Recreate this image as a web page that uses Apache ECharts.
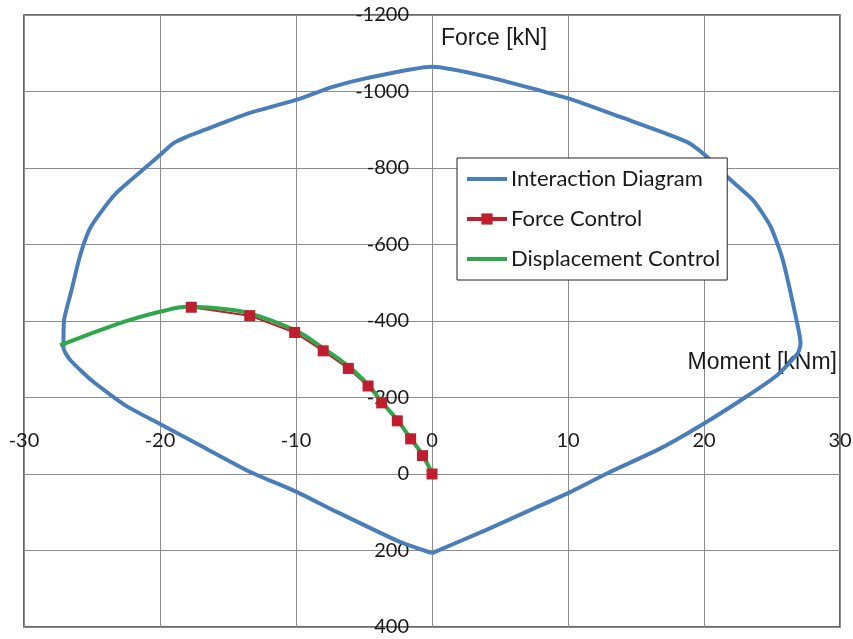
<!DOCTYPE html>
<html>
<head>
<meta charset="utf-8">
<script src="https://cdn.jsdelivr.net/npm/echarts@6/dist/echarts.min.js"></script>
<style>
  html, body { margin: 0; padding: 0; background: #fff; }
  #chart { width: 853px; height: 639px; }
</style>
</head>
<body>
<div id="chart"></div>
<script>
// axis ticks
const momentTicks = [-30, -20, -10, 0, 10, 20, 30]
const forceTicks = [-1200, -1000, -800, -600, -400, -200, 0, 200, 400]

// interaction diagram (closed loop, starting at bottom vertex, going left)
const interactionM = [0, -2.4, -7.3, -10.0, -13.4, -17.1, -20.0, -22.4, -24.9, -26.6, -27.1, -27.05, -26.5, -25.9, -25.2, -24.4, -23.2, -21.0, -20.0, -19.0, -18.0, -15.8, -13.4, -10.0, -7.3, -4.8, 0, 4.0, 10.0, 13.8, 18.7, 20.2, 21.7, 23.6, 24.9, 25.8, 26.8, 27.1, 26.9, 25.4, 23.1, 20.0, 16.8, 12.9, 10.0, 7.5, 4.0, 0]
const interactionN = [207, 177, 94, 46, -6, -76, -131, -176, -241, -298, -330, -403, -481, -568, -638, -682, -735, -803, -834, -865, -882, -912, -944, -978, -1012, -1035, -1065, -1039, -982, -934, -869, -830, -777, -716, -647, -559, -403, -342, -316, -259, -202, -132, -67, -2, 50, 90, 146, 207]

// force control steps
const forceM = [-17.7, -13.4, -10.1, -8.0, -6.15, -4.7, -3.7, -2.55, -1.57, -0.7, 0]
const forceN = [-436, -414, -370, -322, -276, -230, -186, -139, -92, -48, 0]

// displacement control path
const dispM = [-27.35, -24.4, -22.2, -20.0, -18.0, -15.5, -13.4, -10.1, -8.0, -6.15, -4.7, -3.7, -2.55, -1.57, -0.7, 0]
const dispN = [-336, -376, -403, -424, -437, -432, -420, -376, -329, -282, -233, -189, -141, -93, -50, -2]

const pairs = (xs, ys) => xs.map((x, i) => [x, ys[i]])

const chart = echarts.init(document.getElementById('chart'))

// plot box in pixels; the axes cross at (0, 0) inside it
const plot = { left: 24, top: 15, right: 840, bottom: 627 }
const xMin = momentTicks[0], xMax = momentTicks[momentTicks.length - 1]
const yMin = forceTicks[0], yMax = forceTicks[forceTicks.length - 1]
const xZeroOffset = (plot.right - plot.left) * (0 - xMin) / (xMax - xMin)
const yZeroOffset = (plot.bottom - plot.top) * (yMax - 0) / (yMax - yMin)

const gridColor = '#8c8c8c'
const labelFont = {
  fontFamily: 'Lato',
  fontSize: 20,
  color: '#1a1a1a'
}

chart.setOption({
  animation: false,
  grid: {
    left: plot.left,
    top: plot.top,
    right: 853 - plot.right,
    bottom: 639 - plot.bottom,
    containLabel: false,
    outerBoundsMode: 'none',
    show: true,
    borderColor: '#3a3a3a',
    borderWidth: 1.5
  },
  xAxis: {
    type: 'value',
    min: xMin,
    max: xMax,
    interval: 10,
    offset: -yZeroOffset,
    axisLine: { show: true, onZero: false, lineStyle: { color: gridColor, width: 1 } },
    axisTick: { show: false },
    axisLabel: {
      ...labelFont,
      inside: true,
      margin: 23,
      formatter: v => String(v)
    },
    splitLine: { lineStyle: { color: gridColor, width: 1 } }
  },
  yAxis: {
    type: 'value',
    inverse: true,
    min: yMin,
    max: yMax,
    interval: 200,
    offset: -xZeroOffset,
    axisLine: { show: true, onZero: false, lineStyle: { color: gridColor, width: 1 } },
    axisTick: { show: false },
    axisLabel: {
      ...labelFont,
      margin: 23,
      formatter: v => String(v)
    },
    splitLine: { lineStyle: { color: gridColor, width: 1 } }
  },
  legend: {
    orient: 'vertical',
    left: 457,
    top: 158,
    backgroundColor: '#fff',
    borderColor: '#222',
    borderWidth: 1,
    padding: [8, 7, 8, 8],
    itemWidth: 40,
    itemHeight: 14,
    itemGap: 14,
    textStyle: { fontFamily: 'Lato', fontSize: 22, color: '#1a1a1a', lineHeight: 26, padding: [0, 0, 0, -1] },
    data: [
      { name: 'Interaction Diagram', itemStyle: { opacity: 0 }, lineStyle: { width: 4 } },
      { name: 'Force Control', lineStyle: { width: 4 } },
      { name: 'Displacement Control', itemStyle: { opacity: 0 }, lineStyle: { width: 4 } }
    ]
  },
  graphic: [{
    type: 'text',
    left: 441,
    top: 27,
    z: 1,
    style: { text: 'Force [kN]', font: '23px "Liberation Sans"', fill: '#1a1a1a' }
  }, {
    type: 'text',
    right: 16,
    top: 351,
    z: 1,
    style: { text: 'Moment [kNm]', font: '23px "Liberation Sans"', fill: '#1a1a1a' }
  }],
  series: [{
    name: 'Interaction Diagram',
    type: 'line',
    data: pairs(interactionM, interactionN),
    symbol: 'none',
    smooth: 0.2,
    color: '#4a7ebb',
    lineStyle: { width: 4, color: '#4a7ebb' }
  }, {
    name: 'Force Control',
    type: 'line',
    data: pairs(forceM, forceN),
    symbol: 'rect',
    symbolSize: 11,
    color: '#be1e2d',
    itemStyle: { color: '#be1e2d' },
    lineStyle: { width: 2, color: '#be1e2d' }
  }, {
    name: 'Displacement Control',
    type: 'line',
    data: pairs(dispM, dispN),
    symbol: 'none',
    smooth: 0.4,
    color: '#2ea84a',
    lineStyle: { width: 4, color: '#2ea84a' }
  }]
})
</script>
</body>
</html>
